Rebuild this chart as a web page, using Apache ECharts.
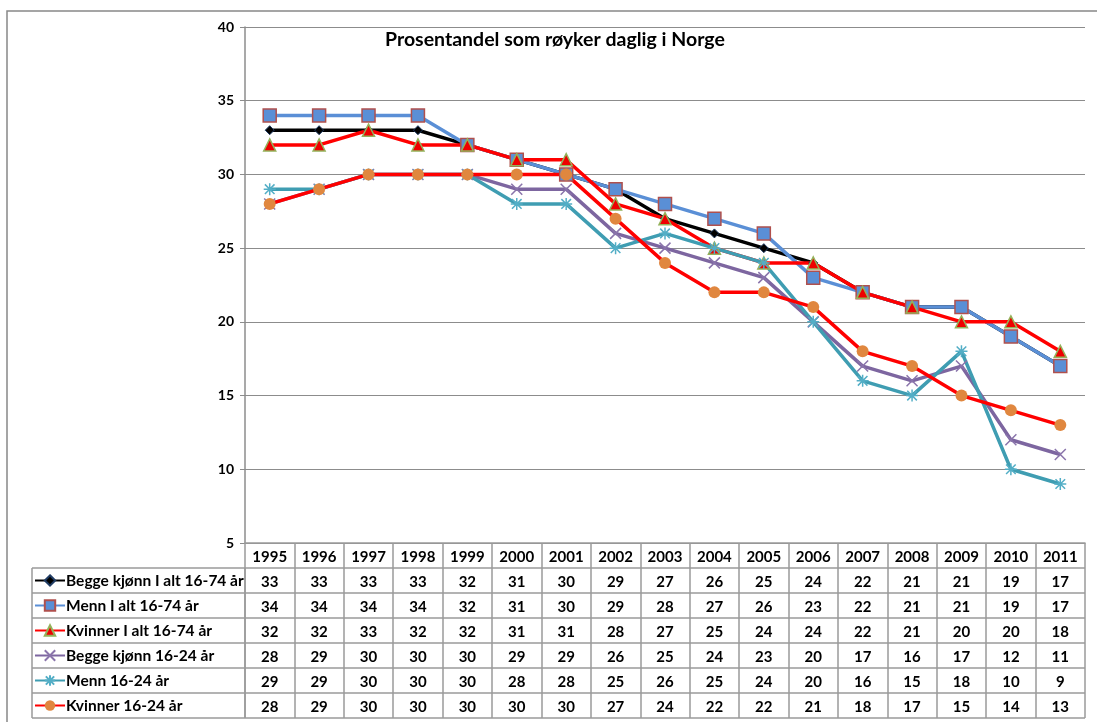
<!DOCTYPE html>
<html>
<head>
<meta charset="utf-8">
<script src="https://cdn.jsdelivr.net/npm/echarts@6/dist/echarts.min.js"></script>
<style>
  html, body { margin: 0; padding: 0; background: #fff; }
  #chart { width: 1097px; height: 722px; }
</style>
</head>
<body>
<div id="chart"></div>
<script>
var years = ['1995', '1996', '1997', '1998', '1999', '2000', '2001', '2002', '2003',
    '2004', '2005', '2006', '2007', '2008', '2009', '2010', '2011'];

var beggeAlt = [33, 33, 33, 33, 32, 31, 30, 29, 27, 26, 25, 24, 22, 21, 21, 19, 17];
var mennAlt = [34, 34, 34, 34, 32, 31, 30, 29, 28, 27, 26, 23, 22, 21, 21, 19, 17];
var kvinnerAlt = [32, 32, 33, 32, 32, 31, 31, 28, 27, 25, 24, 24, 22, 21, 20, 20, 18];
var begge1624 = [28, 29, 30, 30, 30, 29, 29, 26, 25, 24, 23, 20, 17, 16, 17, 12, 11];
var menn1624 = [29, 29, 30, 30, 30, 28, 28, 25, 26, 25, 24, 20, 16, 15, 18, 10, 9];
var kvinner1624 = [28, 29, 30, 30, 30, 30, 30, 27, 24, 22, 22, 21, 18, 17, 15, 14, 13];

var seriesNames = ['Begge kjønn I alt 16-74 år', 'Menn I alt 16-74 år', 'Kvinner I alt 16-74 år',
    'Begge kjønn 16-24 år', 'Menn 16-24 år', 'Kvinner 16-24 år'];
var yTicks = { min: 5, max: 40, step: 5 };

// layout of plot + table below it
var gridLeft = 245, gridRight = 1085, gridTop = 27, gridBottom = 543;
var rowH = 25, tableLeft = 32;
var rows = [beggeAlt, mennAlt, kvinnerAlt, begge1624, menn1624, kvinner1624];

var font = 'Lato, "Open Sans", sans-serif';
var gridColor = '#8c8c8c';
var tableColor = '#9a9a9a';

var chart = echarts.init(document.getElementById('chart'));

function mkSeries(name, data, lineColor, symbol, size, fill, border, bw) {
    return {
        name: name,
        type: 'line',
        data: data,
        symbol: symbol,
        symbolSize: size,
        lineStyle: { color: lineColor, width: 3.5 },
        itemStyle: { color: fill, borderColor: border, borderWidth: bw },
        emphasis: { disabled: true },
        animation: false
    };
}

var xPath = 'path://M0,0L10,10M10,0L0,10';
var starPath = 'path://M5,0L5,10M0,5L10,5M1,1L9,9M9,1L1,9';

// table lines
var graphics = [];
graphics.push({ type: 'rect', shape: { x: 7, y: 11, width: 1200, height: 800 },
    style: { fill: null, stroke: '#888', lineWidth: 1.5 }, silent: true });
for (var r = 0; r <= rows.length; r++) {
    var y = gridBottom + rowH * (r + 1);
    graphics.push({ type: 'line', shape: { x1: tableLeft, y1: y, x2: gridRight, y2: y },
        style: { stroke: tableColor, lineWidth: 1.5 }, silent: true });
}
graphics.push({ type: 'line', shape: { x1: tableLeft, y1: gridBottom + rowH, x2: tableLeft, y2: gridBottom + rowH * 7 },
    style: { stroke: tableColor, lineWidth: 1.5 }, silent: true });
graphics.push({ type: 'line', shape: { x1: gridLeft, y1: gridBottom + rowH, x2: gridLeft, y2: gridBottom + rowH * 7 },
    style: { stroke: tableColor, lineWidth: 1.5 }, silent: true });

// one legend per table row so each sits in its own row
var legends = seriesNames.map(function (name, i) {
    return {
        orient: 'horizontal',
        left: 34,
        top: gridBottom + rowH * (i + 1) + rowH / 2 - 10,
        padding: 0,
        itemWidth: 30,
        itemHeight: 13,
        selectedMode: false,
        textStyle: { fontFamily: font, fontSize: 15.5, lineHeight: 20, fontWeight: 'bold', color: '#000', padding: [0, 0, 0, -4] },
        data: [name]
    };
});

chart.setOption({
    backgroundColor: '#fff',
    title: {
        text: 'Prosentandel som røyker daglig i Norge',
        left: 380,
        top: 25,
        textStyle: { fontFamily: font, fontSize: 19.5, fontWeight: 'bold', color: '#000' }
    },
    legend: legends,
    grid: {
        left: gridLeft,
        right: 1097 - gridRight,
        top: gridTop,
        bottom: 722 - gridBottom
    },
    xAxis: {
        type: 'category',
        data: years,
        axisLine: { lineStyle: { color: tableColor, width: 1.5 } },
        axisTick: { show: true, interval: 0, length: rowH * 7, lineStyle: { color: tableColor, width: 1.5 } },
        axisLabel: {
            interval: 0,
            margin: 2,
            formatter: function (value, idx) {
                var s = '{y|' + value + '}';
                rows.forEach(function (arr) { s += '\n{v|' + arr[idx] + '}'; });
                return s;
            },
            rich: {
                y: { fontFamily: font, fontSize: 15, fontWeight: 'bold', color: '#000', lineHeight: rowH, align: 'center' },
                v: { fontFamily: font, fontSize: 15, fontWeight: 'bold', color: '#000', lineHeight: rowH, align: 'center' }
            }
        }
    },
    yAxis: {
        type: 'value',
        min: yTicks.min,
        max: yTicks.max,
        interval: yTicks.step,
        axisLine: { show: true, lineStyle: { color: gridColor, width: 1.5 } },
        axisTick: { show: true, length: 5, lineStyle: { color: gridColor } },
        axisLabel: { fontFamily: font, fontSize: 14, fontWeight: 'bold', color: '#000', margin: 11 },
        splitLine: { lineStyle: { color: gridColor, width: 1.2 } }
    },
    graphic: graphics,
    series: [
        mkSeries(seriesNames[0], beggeAlt, '#000000', 'diamond', 9, '#000000', '#1f3b63', 1),
        mkSeries(seriesNames[1], mennAlt, '#5a8fd6', 'rect', 13, '#5a8fd6', '#b0504d', 1.5),
        mkSeries(seriesNames[2], kvinnerAlt, '#ff0000', 'triangle', 12, '#ee0000', '#94b25a', 1.5),
        mkSeries(seriesNames[3], begge1624, '#7d66a0', xPath, 11, 'none', '#8a74ab', 1.5),
        mkSeries(seriesNames[4], menn1624, '#3f9db2', starPath, 12, 'none', '#53aec6', 1.5),
        mkSeries(seriesNames[5], kvinner1624, '#ff0000', 'circle', 12, '#e0873f', '#e0873f', 0)
    ]
});
</script>
</body>
</html>
